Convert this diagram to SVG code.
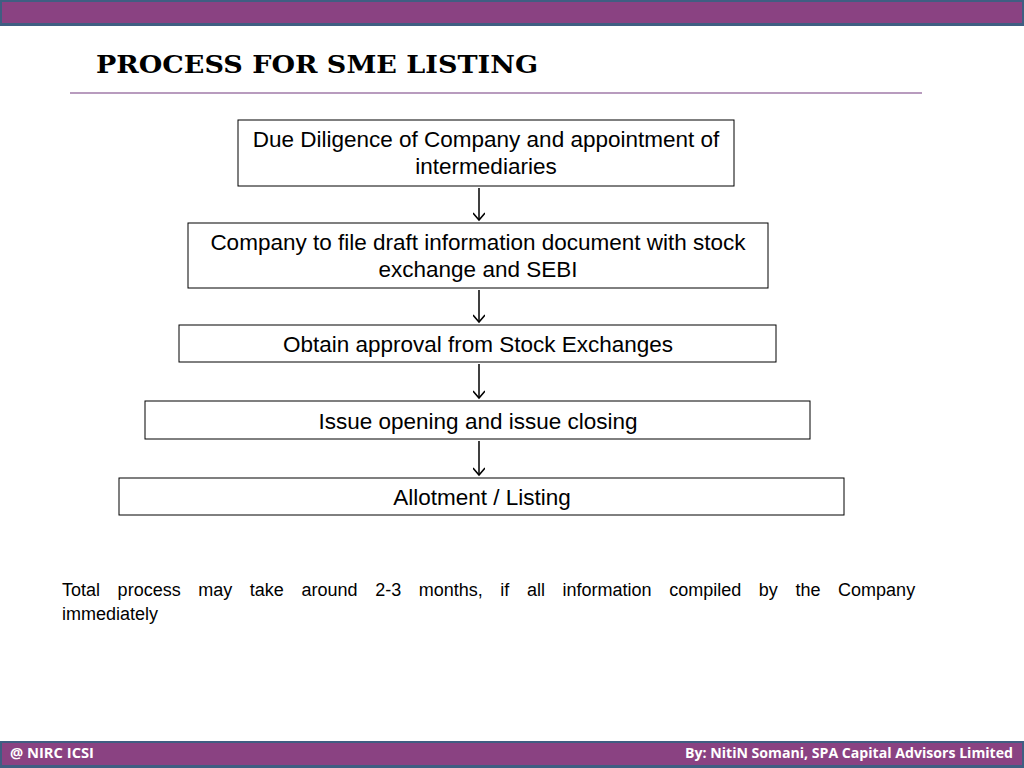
<svg xmlns="http://www.w3.org/2000/svg" width="1024" height="768" viewBox="0 0 1024 768">
<style>
.box{fill:#fff;stroke:#000;stroke-width:1}
.t{font-family:"Liberation Sans",Arial,sans-serif;font-size:22.5px;fill:#000;text-anchor:middle}
.c{stroke:#000;stroke-width:1.5;fill:none}
.f{font-family:"Open Sans","Liberation Sans",sans-serif;font-size:14px;font-weight:bold;fill:#fff}
</style>
<defs><marker id="a" markerWidth="12" markerHeight="12" refX="10" refY="6" orient="auto" markerUnits="userSpaceOnUse"><path d="M3,0 L10,6 L3,12" fill="none" stroke="#000" stroke-width="1.5"/></marker></defs>
<rect x="0" y="0" width="1024" height="26" fill="#3f5e82"/>
<rect x="2" y="2" width="1020" height="21" fill="#8a4282"/>
<text x="96" y="73" font-family="'DejaVu Serif',serif" font-weight="bold" font-size="25" fill="#000" textLength="442" lengthAdjust="spacingAndGlyphs">PROCESS FOR SME LISTING</text>
<line x1="70" y1="93" x2="922" y2="93" stroke="#a07aa8" stroke-width="1.5"/>
<g id="n1"><rect class="box" x="238" y="120" width="496" height="66"/><text class="t" x="486" y="147">Due Diligence of Company and appointment of</text><text class="t" x="486" y="174">intermediaries</text></g>
<g id="n2"><rect class="box" x="188" y="223" width="580" height="65"/><text class="t" x="478" y="250">Company to file draft information document with stock</text><text class="t" x="478" y="277">exchange and SEBI</text></g>
<g id="n3"><rect class="box" x="179" y="325" width="597" height="37"/><text class="t" x="478" y="352">Obtain approval from Stock Exchanges</text></g>
<g id="n4"><rect class="box" x="145" y="401" width="665" height="38"/><text class="t" x="478" y="429">Issue opening and issue closing</text></g>
<g id="n5"><rect class="box" x="119" y="478" width="725" height="37"/><text class="t" x="482" y="505">Allotment / Listing</text></g>
<g id="connectors">
<line class="c" x1="479" y1="188" x2="479" y2="220" marker-end="url(#a)"/>
<line class="c" x1="479" y1="290" x2="479" y2="322" marker-end="url(#a)"/>
<line class="c" x1="479" y1="364" x2="479" y2="398" marker-end="url(#a)"/>
<line class="c" x1="479" y1="441" x2="479" y2="475" marker-end="url(#a)"/>
</g>
<text font-family="'Liberation Sans',Arial,sans-serif" font-size="18" fill="#000"><tspan x="62" y="596" word-spacing="12.6">Total process may take around 2-3 months, if all information compiled by the Company</tspan><tspan x="62" y="620">immediately</tspan></text>
<rect x="0" y="741" width="1024" height="27" fill="#3f5e82"/>
<rect x="2" y="743" width="1020" height="22" fill="#8a4282"/>
<text class="f" x="10" y="754" font-size="13" dominant-baseline="middle" textLength="84" lengthAdjust="spacingAndGlyphs">@ NIRC ICSI</text>
<text class="f" x="1013" y="754" font-size="13" dominant-baseline="middle" text-anchor="end" textLength="328" lengthAdjust="spacingAndGlyphs">By: NitiN Somani, SPA Capital Advisors Limited</text>
</svg>
